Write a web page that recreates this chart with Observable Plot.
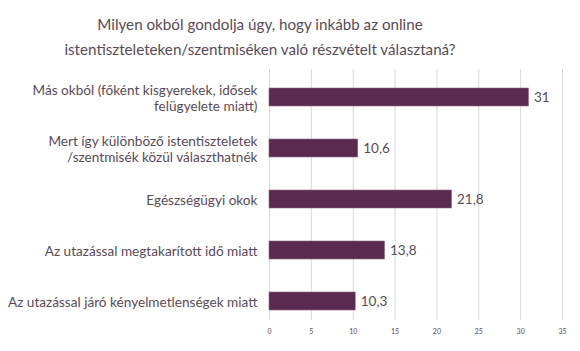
<!DOCTYPE html>
<html><head><meta charset="utf-8">
<script src="https://cdn.jsdelivr.net/npm/d3@7"></script>
<script src="https://cdn.jsdelivr.net/npm/@observablehq/plot@0.6"></script>
<style>
body{margin:0;background:#fff;font-family:Lato,"Open Sans",sans-serif;}
#title{width:520px;height:65px;box-sizing:border-box;padding-top:12px;text-align:center;color:#594a5a;font-size:15.2px;line-height:25px;}
</style></head>
<body>
<div id="title">Milyen okból gondolja úgy, hogy inkább az online<br>istentiszteleteken/szentmiséken való részvételt választaná?</div>
<div id="chart"></div>
<script>
const categories = [
  "Más okból (főként kisgyerekek, idősek\nfelügyelete miatt)",
  "Mert így különböző istentiszteletek\n/szentmisék közül választhatnék",
  "Egészségügyi okok",
  "Az utazással megtakarított idő miatt",
  "Az utazással járó kényelmetlenségek miatt"
];
const values = [31, 10.6, 21.8, 13.8, 10.3];
const xTicks = [0, 5, 10, 15, 20, 25, 30, 35];

const data = categories.map((c, i) => ({cat: c, v: values[i]}));
const fmt = v => String(v).replace(".", ",");

const plot = Plot.plot({
  width: 580,
  height: 286,
  marginTop: 4,
  marginBottom: 31,
  marginLeft: 269,
  marginRight: 18,
  style: {fontFamily: "Lato, 'Open Sans', sans-serif", color: "#594a5a", background: "#fff"},
  x: {domain: [0, 35], ticks: xTicks},
  y: {domain: categories, paddingInner: 0.643, paddingOuter: 0.246, align: 0.65},
  marks: [
    Plot.gridX(xTicks, {stroke: "#d9d9d9", strokeOpacity: 1}),
    Plot.axisX(xTicks, {tickSize: 0, tickPadding: 9, fontSize: 7, tickFormat: d => d, label: null, fill: "#594a5a"}),
    Plot.axisY({tickSize: 0, tickPadding: 12, fontSize: 13.6, label: null, fill: "#594a5a", lineHeight: 1.18}),
    Plot.barX(data, {x: "v", y: "cat", fill: "#5a2a50", stroke: "#8a6a82", strokeWidth: 0.6}),
    Plot.text(data, {x: "v", y: "cat", text: d => fmt(d.v), textAnchor: "start", dx: 5, fontSize: 13.5, fill: "#594a5a"})
  ]
});
document.getElementById("chart").appendChild(plot);
</script>
</body></html>
